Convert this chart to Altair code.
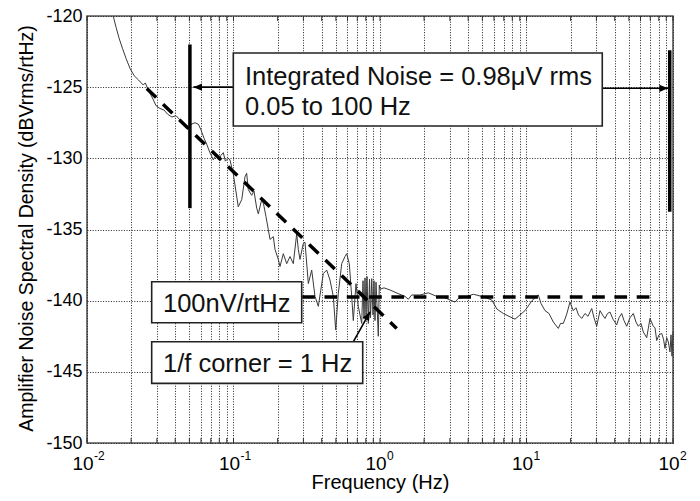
import altair as alt
import pandas as pd

# ---- measured noise spectral density trace (Hz, dBVrms/rtHz) ----
freqs = [0.0151, 0.0158, 0.0166, 0.0175, 0.0185, 0.0197, 0.0210, 0.0225, 0.0242, 0.0250,
         0.0262, 0.0278, 0.0296, 0.0315, 0.0335, 0.0355, 0.0380, 0.0405, 0.0431, 0.0460,
         0.0490, 0.0515, 0.0546, 0.0575, 0.0600, 0.0630, 0.0656, 0.0690, 0.0728, 0.0760,
         0.0790, 0.0820, 0.0852, 0.0880, 0.0920, 0.0946, 0.0997,
         0.1078, 0.1138, 0.1198, 0.1230, 0.1262, 0.1331, 0.1380, 0.1440, 0.1477, 0.1558,
         0.1603, 0.1667, 0.1728, 0.1775, 0.1870, 0.1920, 0.2022, 0.2077, 0.2188, 0.2308,
         0.2430, 0.2560, 0.2700, 0.2770, 0.2844,
         0.2996, 0.3077, 0.3241, 0.3418, 0.3600, 0.3793, 0.3937, 0.4102, 0.4327, 0.4557,
         0.4800, 0.4984, 0.5193, 0.5478, 0.5769, 0.5925, 0.6173, 0.6409, 0.6574, 0.6859,
         0.7111, 0.7501,
         0.7656, 0.7777, 0.7901, 0.8025, 0.8152, 0.8322, 0.8481, 0.8615, 0.8780, 0.8960,
         0.9099, 0.9245, 0.9391, 0.9585, 0.9736, 0.9890, 1.000,
         1.065, 1.170, 1.327, 1.482, 1.561, 1.646, 1.876, 2.137, 2.439, 2.778,
         3.251, 3.423, 3.804, 4.334, 4.946, 5.788, 6.292, 6.946, 7.596, 8.346,
         9.028, 9.768, 10.90, 12.04, 12.56, 13.38, 14.24, 15.24, 16.49, 17.07,
         17.83, 18.75, 19.81, 20.86, 21.77, 22.64, 23.82, 25.08, 26.29, 27.87,
         28.89, 30.15, 31.75, 33.03, 34.35, 35.73, 37.15, 38.94, 41.27, 42.79,
         44.65, 46.29, 48.31, 50.87, 53.58, 55.90, 57.96, 60.47, 62.70, 66.16,
         69.66, 73.36, 75.35, 77.39, 80.24, 83.74, 86.14, 88.18, 90.59, 92.91,
         95.41, 96.92, 98.44, 100.0]
levels = [-120.0, -120.8, -121.6, -122.3, -123.0, -123.7, -124.2, -124.5, -124.85, -124.7,
          -125.2, -125.7, -126.3, -126.5, -126.6, -126.9, -127.1, -127.0, -127.3, -127.6,
          -127.9, -127.6, -127.5, -127.6, -128.0, -128.6, -129.0, -129.6, -130.1, -129.8,
          -130.1, -129.8, -129.6, -130.2, -130.0, -130.1, -131.1,
          -133.4, -132.9, -131.3, -131.05, -132.2, -132.6, -132.3, -133.5, -133.9, -132.9,
          -133.2, -134.1, -135.0, -135.7, -135.5, -136.4, -137.1, -137.6, -136.7, -137.4,
          -136.9, -137.4, -135.3, -136.4, -137.1,
          -135.97, -135.9, -138.8, -137.85, -139.7, -140.4, -139.3, -138.1, -137.85, -138.55,
          -139.7, -142.05, -139.5, -137.4, -136.9, -136.7, -137.4, -139.7, -141.4, -138.8,
          -140.4, -141.6,
          -138.6, -141.3, -138.4, -141.0, -138.3, -141.6, -138.5, -141.2, -138.45, -141.0,
          -138.6, -141.4, -138.7, -140.8, -142.5, -138.9, -139.2,
          -139.1, -139.25, -139.5, -139.7, -139.9, -139.6, -139.6, -139.45, -139.7, -139.8,
          -140.1, -139.85, -139.75, -139.55, -139.7, -139.95, -140.6, -140.9, -141.1, -141.3,
          -141.0, -140.7, -140.0, -139.6, -140.2, -140.7, -140.9, -141.5, -141.95, -141.6,
          -141.6, -141.0, -140.1, -140.7, -140.5, -141.0, -141.25, -140.9, -141.1, -140.55,
          -141.2, -141.8, -140.7, -141.0, -141.25, -140.9, -140.8, -141.3, -141.7, -141.2,
          -140.9, -141.4, -141.8, -141.2, -140.9, -141.5, -141.8, -141.6, -142.2, -142.6,
          -141.25, -141.8, -141.9, -142.8, -142.4, -142.3, -142.7, -143.35, -142.6, -142.9,
          -143.6, -142.4, -143.9, -142.2]

# ---- asymptote lines ----
slope_f = [0.0256, 1.30]
slope_db = [-125.1, -141.95]
floor_f = [0.2944, 69.66]
floor_db = [-139.75, -139.75]

# ---- integration band markers ----
band_f = [0.0504, 95.0]
band_top = [-122.0, -122.4]
band_bottom = [-133.5, -133.75]

# ---- arrows (tail -> head) ----
arrow_f1 = [0.0997, 32.9, 0.657]
arrow_db1 = [-125.0, -125.08, -142.89]
arrow_f2 = [0.0532, 92.5, 0.855]
arrow_db2 = [-125.0, -125.08, -140.78]
arrow_dir = [270, 90, 29]

# ---- annotation boxes ----
box_f1 = [0.0997, 0.02764, 0.02764]
box_f2 = [32.9, 0.2921, 0.762]
box_db1 = [-122.6, -138.67, -142.89]
box_db2 = [-127.73, -141.55, -145.81]

note_text = ["Integrated Noise = 0.98\u03bcV rms", "0.05 to 100 Hz", "100nV/rtHz", "1/f corner = 1 Hz"]
note_f = [0.1198, 0.1198, 0.0330, 0.0330]
note_db = [-124.85, -126.96, -140.78, -145.0]

# ---- axis ticks ----
decades = [0.01, 0.1, 1, 10, 100]
bases = ["10", "10", "10", "10", "10"]
exponents = ["-2", "-1", "0", "1", "2"]
y_ticks = [-150, -145, -140, -135, -130, -125, -120]
x_ticks = [m * d for d in [0.01, 0.1, 1, 10] for m in range(1, 10)] + [100]

FONT = "Liberation Sans"
xs = alt.Scale(type="log", domain=[0.01, 100], nice=False)
ys = alt.Scale(domain=[-150, -120], nice=False, zero=False)


def X(field):
    return alt.X(field, type="quantitative", scale=xs)


def Y(field):
    return alt.Y(field, type="quantitative", scale=ys)


trace_df = pd.DataFrame({"f": freqs, "db": levels})
trace = alt.Chart(trace_df).mark_line(color="#3a3a3a", strokeWidth=1).encode(
    x=alt.X("f:Q", scale=xs, axis=alt.Axis(
        values=x_ticks, grid=True, domain=False, ticks=False, tickSize=0, labels=False,
        title="Frequency (Hz)", titleFontSize=20, titleFontWeight="normal",
        titleY=45, titleBaseline="alphabetic", titleColor="#000")),
    y=alt.Y("db:Q", scale=ys, axis=alt.Axis(
        values=y_ticks, grid=True, domain=False, ticks=False, tickSize=0,
        labelExpr="'' + datum.value", labelFontSize=18, labelPadding=5, labelColor="#000",
        title="Amplifier Noise Spectral Density (dBVrms/rtHz)", titleFontSize=19.5,
        titleFontWeight="normal", titleAngle=270, titleX=-55, titleY=212,
        titleBaseline="alphabetic", titleAlign="center", titleColor="#000")),
    order="f:Q",
)

slope = alt.Chart(pd.DataFrame({"f": slope_f, "db": slope_db})).mark_line(
    color="#000", strokeWidth=3.5, strokeDash=[13, 9.5]).encode(x=X("f"), y=Y("db"))

floor = alt.Chart(pd.DataFrame({"f": floor_f, "db": floor_db})).mark_line(
    color="#000", strokeWidth=3.5, strokeDash=[12.7, 9.6]).encode(x=X("f"), y=Y("db"))

bands = alt.Chart(pd.DataFrame({"f": band_f, "top": band_top, "bottom": band_bottom})).mark_rule(
    color="#000", strokeWidth=3.5).encode(x=X("f"), y=Y("top"), y2="bottom:Q")

arrow_df = pd.DataFrame({"f1": arrow_f1, "d1": arrow_db1, "f2": arrow_f2, "d2": arrow_db2, "dir": arrow_dir})
arrow_lines = alt.Chart(arrow_df).mark_rule(color="#000", strokeWidth=1.6).encode(
    x=X("f1"), y=Y("d1"), x2="f2:Q", y2="d2:Q")
arrow_heads = alt.Chart(arrow_df).mark_point(
    shape="M0,0L0.42,1L-0.42,1Z", filled=True, color="#000", opacity=1, size=300, strokeWidth=0).encode(
    x=X("f2"), y=Y("d2"), angle=alt.Angle("dir:Q", scale=None))

boxes = alt.Chart(pd.DataFrame({"f1": box_f1, "f2": box_f2, "d1": box_db1, "d2": box_db2})).mark_rect(
    fill="white", stroke="#222", strokeWidth=1.6).encode(
    x=X("f1"), x2="f2:Q", y=Y("d1"), y2="d2:Q")

notes = alt.Chart(pd.DataFrame({"t": note_text, "f": note_f, "db": note_db})).mark_text(
    align="left", baseline="alphabetic", fontSize=25.5, font=FONT, color="#111").encode(
    x=X("f"), y=Y("db"), text="t:N")

tick_df = pd.DataFrame({"f": x_ticks})
bottom_ticks = alt.Chart(tick_df).mark_rule(color="#333", strokeWidth=1).encode(
    x=X("f"), y=alt.datum(-150, scale=ys), y2=alt.datum(-149.65))
top_ticks = alt.Chart(tick_df).mark_rule(color="#333", strokeWidth=1).encode(
    x=X("f"), y=alt.datum(-120, scale=ys), y2=alt.datum(-120.35))

dec_df = pd.DataFrame({"f": decades, "b": bases, "e": exponents})
base_labels = alt.Chart(dec_df).mark_text(
    align="center", baseline="alphabetic", fontSize=19, font=FONT, color="#000", dx=-4).encode(
    x=X("f"), y=alt.datum(-151.9, scale=ys), text="b:N")
exps = alt.Chart(dec_df).mark_text(
    align="left", baseline="alphabetic", fontSize=12, font=FONT, color="#000", dx=7).encode(
    x=X("f"), y=alt.datum(-151.2, scale=ys), text="e:N")

chart = alt.layer(
    trace, slope, floor, bands, arrow_lines, arrow_heads, boxes, notes,
    bottom_ticks, top_ticks, base_labels, exps
).properties(
    width=586, height=427,
    padding={"left": 79, "top": 8, "right": 19, "bottom": 50},
    autosize=alt.AutoSizeParams(type="none"),
).configure(
    font=FONT,
).configure_view(
    stroke="#555", strokeWidth=1.6,
).configure_axis(
    gridColor="#222", gridDash=[1, 1.6], gridWidth=1, gridOpacity=1,
    labelFont=FONT, titleFont=FONT,
)

chart.save("out.html", embed_options={"renderer": "svg", "actions": False})
